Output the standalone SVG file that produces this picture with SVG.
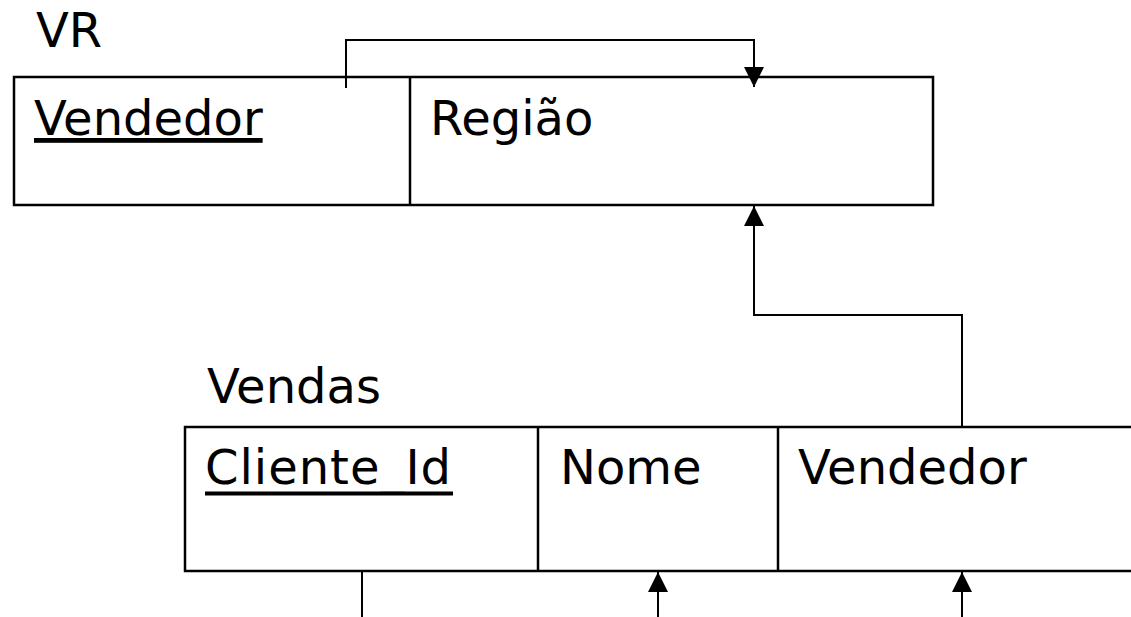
<svg xmlns="http://www.w3.org/2000/svg" width="1131" height="617" viewBox="0 0 1131 617">
<style>
  .t { font-family: "DejaVu Sans", Verdana, sans-serif; font-size: 48px; fill: #000; }
  .u { text-decoration: underline; }
  .ul { stroke: #000; stroke-width: 4; }
  .box { fill: #fff; stroke: #000; stroke-width: 2.5; }
  .div { stroke: #000; stroke-width: 2.5; }
  .c { fill: none; stroke: #000; stroke-width: 2; }
</style>
<defs>
  <marker id="arr" viewBox="0 0 20 20" refX="20" refY="10" markerWidth="20" markerHeight="20" markerUnits="userSpaceOnUse" orient="auto">
    <path d="M0,0 L20,10 L0,20 z" fill="#000"/>
  </marker>
</defs>
<rect width="1131" height="617" fill="#fff"/>

<g id="VR">
  <text class="t" x="36" y="47">VR</text>
  <rect class="box" x="14" y="77" width="919" height="128"/>
  <line class="div" x1="410" y1="77" x2="410" y2="205"/>
  <text class="t u" x="34" y="135">Vendedor</text>
  <text class="t" x="430" y="135">Região</text>
</g>

<g id="Vendas">
  <text class="t" x="207" y="403">Vendas</text>
  <rect class="box" x="185" y="427" width="960" height="144"/>
  <line class="div" x1="538" y1="427" x2="538" y2="571"/>
  <line class="div" x1="778" y1="427" x2="778" y2="571"/>
  <text class="t" x="205" y="484" textLength="246" lengthAdjust="spacing">Cliente_Id</text>
  <line class="ul" x1="205" y1="493.5" x2="453" y2="493.5"/>
  <text class="t" x="560" y="484">Nome</text>
  <text class="t" x="798" y="484">Vendedor</text>
</g>

<g id="connectors">
  <path class="c" d="M346,88 V40 H754 V87" marker-end="url(#arr)"/>
  <path class="c" d="M962,427 V315 H754 V206" marker-end="url(#arr)"/>
  <line class="c" x1="362" y1="571" x2="362" y2="617"/>
  <line class="c" x1="658" y1="617" x2="658" y2="572" marker-end="url(#arr)"/>
  <line class="c" x1="962" y1="617" x2="962" y2="572" marker-end="url(#arr)"/>
</g>
</svg>
